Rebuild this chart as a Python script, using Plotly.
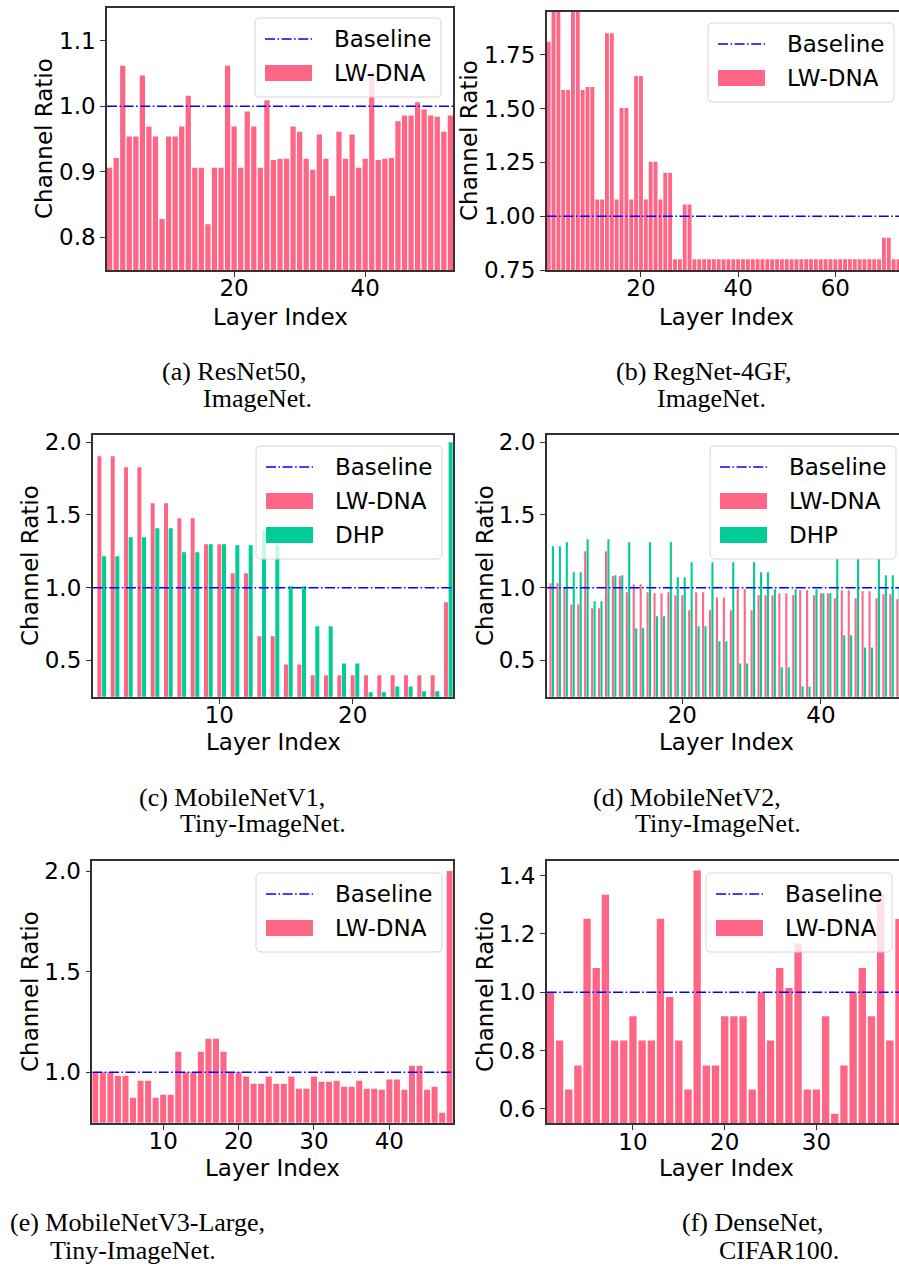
import plotly.graph_objects as go

W, H = 899, 1270

# ---------------- data ----------------
resnet_lwdna = [0.906, 0.921, 1.062, 0.954, 0.954, 1.047, 0.969, 0.954, 0.828, 0.954,
                0.954, 0.969, 1.016, 0.906, 0.906, 0.820, 0.906, 0.906, 1.062, 0.969,
                0.906, 0.992, 0.969, 0.906, 1.009, 0.918, 0.920, 0.920, 0.969, 0.961,
                0.920, 0.903, 0.957, 0.920, 0.863, 0.961, 0.920, 0.957, 0.906, 0.920,
                1.052, 0.918, 0.920, 0.921, 0.977, 0.986, 0.986, 1.006, 0.995, 0.986,
                0.984, 0.961, 0.986]

regnet_lwdna = [1.81, 2.00, 2.00, 1.586, 1.586, 2.00, 2.00, 1.586, 1.60, 1.60,
                1.077, 1.077, 1.85, 1.85, 1.077, 1.503, 1.503, 1.077, 1.651, 1.651,
                1.077, 1.253, 1.253, 1.077, 1.202, 1.202, 0.80, 0.80, 1.054, 1.054,
                0.80, 0.80, 0.80, 0.80, 0.80, 0.80, 0.80, 0.80, 0.80, 0.80,
                0.80, 0.80, 0.80, 0.80, 0.80, 0.80, 0.80, 0.80, 0.80, 0.80,
                0.80, 0.80, 0.80, 0.80, 0.80, 0.80, 0.80, 0.80, 0.80, 0.80,
                0.80, 0.80, 0.80, 0.80, 0.80, 0.80, 0.80, 0.80, 0.80, 0.90,
                0.90, 0.80, 0.80]

mbv1_lwdna = [1.904, 1.904, 1.828, 1.828, 1.580, 1.580, 1.477, 1.477, 1.298, 1.298,
              1.099, 1.099, 0.665, 0.665, 0.472, 0.472, 0.397, 0.397, 0.397, 0.397,
              0.397, 0.397, 0.397, 0.397, 0.397, 0.397, 0.899]
mbv1_dhp = [1.216, 1.216, 1.346, 1.346, 1.408, 1.408, 1.243, 1.243, 1.298, 1.298,
            1.291, 1.291, 1.395, 1.291, 1.009, 1.009, 0.734, 0.734, 0.479, 0.479,
            0.280, 0.280, 0.321, 0.321, 0.287, 0.287, 2.00]

mbv2_lwdna = [1.030, 1.030, 1.000, 0.885, 0.885, 1.250, 0.858, 0.858, 1.250, 1.078,
              1.078, 0.968, 1.023, 1.023, 0.968, 0.961, 0.961, 0.968, 0.947, 0.947,
              0.844, 0.968, 0.968, 0.844, 0.933, 0.933, 0.844, 0.989, 0.989, 0.844,
              0.947, 0.947, 0.947, 0.961, 0.961, 0.947, 0.982, 0.982, 0.947, 0.961,
              0.961, 0.927, 0.982, 0.982, 0.927, 0.975, 0.975, 0.927, 0.954, 0.954,
              0.920]
mbv2_dhp = [1.284, 1.284, 1.312, 1.106, 1.106, 1.333, 0.906, 0.906, 1.333, 1.085,
            1.085, 1.312, 0.720, 0.720, 1.312, 0.803, 0.803, 1.312, 1.071, 1.071,
            1.174, 0.734, 0.734, 1.174, 0.631, 0.631, 1.174, 0.479, 0.479, 1.174,
            1.106, 1.106, 0.989, 0.452, 0.452, 0.989, 0.321, 0.321, 0.989, 0.961,
            0.961, 1.200, 0.672, 0.672, 1.200, 0.589, 0.589, 1.200, 1.085, 1.085,
            1.000]

mbv3_lwdna = [1.000, 1.000, 1.000, 0.983, 0.983, 0.874, 0.959, 0.959, 0.874, 0.889,
              0.889, 1.102, 1.000, 1.000, 1.102, 1.167, 1.167, 1.102, 1.000, 1.000,
              0.979, 0.944, 0.944, 0.979, 0.944, 0.944, 0.979, 0.919, 0.919, 0.979,
              0.954, 0.954, 0.959, 0.929, 0.929, 0.959, 0.919, 0.919, 0.914, 0.964,
              0.964, 0.914, 1.033, 1.033, 0.914, 0.929, 0.800, 2.000]

densenet_lwdna = [1.000, 0.834, 0.666, 0.748, 1.252, 1.083, 1.334, 0.834, 0.834, 0.917,
                  0.834, 0.834, 1.252, 0.983, 0.834, 0.666, 1.417, 0.748, 0.748, 0.917,
                  0.917, 0.917, 0.666, 1.000, 0.834, 1.083, 1.014, 1.168, 0.666, 0.666,
                  0.917, 0.583, 0.748, 1.000, 1.083, 0.917, 1.334, 0.834, 1.251]

baseline_value = 1.0

captions = [
    ("(a) ", "ResNet50,", "ImageNet."),
    ("(b) ", "RegNet-4GF,", "ImageNet."),
    ("(c) ", "MobileNetV1,", "Tiny-ImageNet."),
    ("(d) ", "MobileNetV2,", "Tiny-ImageNet."),
    ("(e) ", "MobileNetV3-Large,", "Tiny-ImageNet."),
    ("(f) ", "DenseNet,", "CIFAR100."),
]

# ---------------- style ----------------
PINK = "#FF6685"
GREEN = "#00CC96"
BLUE = "#0000FF"
DASH = "10px,2.5px,1.6px,2.5px"
FONT = "DejaVu Sans"
FS = 23
SPINE = "#333333"
CAPFONT = "Liberation Serif"
CAPFS = 26

def fx(x):
    return x / W

def fy(y):
    return 1 - y / H

panels = [
    dict(data=[resnet_lwdna], dom=(107, 453, 8, 270), xr=(0.6, 53.4), yr=(0.75, 1.15),
         xt=[20, 40], yt=[0.8, 0.9, 1.0, 1.1], yfmt="{:.1f}", right=False,
         leg=(255, 18), ylab=(44, 139), xlab=(280, 317)),
    dict(data=[regnet_lwdna], dom=(546.7, 899, 11.7, 270), xr=(0.6, 73.1), yr=(0.75, 1.95),
         xt=[20, 40, 60], yt=[0.75, 1.0, 1.25, 1.5, 1.75], yfmt="{:.2f}", right=True,
         leg=(708, 23), ylab=(469, 141), xlab=(726, 317)),
    dict(data=[mbv1_lwdna, mbv1_dhp], dom=(92.7, 453.3, 435, 696.7), xr=(0.5, 27.55),
         yr=(0.25, 2.05), xt=[10, 20], yt=[0.5, 1.0, 1.5, 2.0], yfmt="{:.1f}", right=False,
         leg=(256, 446), ylab=(30, 566), xlab=(273, 742)),
    dict(data=[mbv2_lwdna, mbv2_dhp], dom=(546.7, 899, 435, 696.7), xr=(0.45, 51.25),
         yr=(0.25, 2.05), xt=[20, 40], yt=[0.5, 1.0, 1.5, 2.0], yfmt="{:.1f}", right=True,
         leg=(710, 446), ylab=(485, 566), xlab=(726, 742)),
    dict(data=[mbv3_lwdna], dom=(92.3, 452.7, 861, 1122.7), xr=(0.6, 48.4), yr=(0.75, 2.05),
         xt=[10, 20, 30, 40], yt=[1.0, 1.5, 2.0], yfmt="{:.1f}", right=False,
         leg=(256, 873), ylab=(30, 992), xlab=(272, 1168)),
    dict(data=[densenet_lwdna], dom=(546.7, 899, 861, 1123.3), xr=(0.6, 39.0),
         yr=(0.55, 1.45), xt=[10, 20, 30], yt=[0.6, 0.8, 1.0, 1.2, 1.4], yfmt="{:.1f}",
         right=True, leg=(706, 873), ylab=(485, 992), xlab=(726, 1168)),
]

caption_pos = [  # x of line 1, indent of line 2, y line1, y line2
    (160, 41, 372, 398),
    (614, 41, 372, 398),
    (137, 41, 797, 823),
    (591, 42, 797, 823),
    (8, 40, 1222, 1250),
    (680, 37, 1222, 1250),
]

fig = go.Figure()
shapes = []
annotations = []

for k, p in enumerate(panels):
    n = k + 1
    xa = "x" if n == 1 else f"x{n}"
    ya = "y" if n == 1 else f"y{n}"
    series = p["data"]
    layers = list(range(1, len(series[0]) + 1))
    if len(series) == 1:
        fig.add_trace(go.Bar(x=layers, y=series[0], width=0.8, marker_color=PINK,
                             marker_line_width=0, name="LW-DNA", showlegend=False,
                             xaxis=xa, yaxis=ya))
    else:
        fig.add_trace(go.Bar(x=layers, y=series[0], width=0.3, marker_color=PINK,
                             marker_line_width=0, name="LW-DNA", showlegend=False,
                             xaxis=xa, yaxis=ya))
        fig.add_trace(go.Bar(x=[v + 0.35 for v in layers], y=series[1], width=0.3,
                             marker_color=GREEN, marker_line_width=0, name="DHP",
                             showlegend=False, xaxis=xa, yaxis=ya))
    fig.add_trace(go.Scatter(x=[p["xr"][0], p["xr"][1]], y=[baseline_value, baseline_value],
                             mode="lines", line=dict(color=BLUE, width=1.5, dash=DASH),
                             name="Baseline", showlegend=False, xaxis=xa, yaxis=ya,
                             hoverinfo="skip"))

    x0, x1, t, b = p["dom"]
    axis_common = dict(showline=True, linecolor=SPINE, linewidth=1.6, ticks="outside",
                       ticklen=5, tickwidth=1.4, tickcolor=SPINE, showgrid=False,
                       zeroline=False, automargin=False,
                       tickfont=dict(family=FONT, size=FS, color="black"))
    xaxis = dict(axis_common, domain=[fx(x0), fx(x1)], range=list(p["xr"]),
                 tickvals=p["xt"], ticktext=[str(v) for v in p["xt"]], mirror=True,
                 anchor=ya, ticklabelstandoff=-8)
    yaxis = dict(axis_common, domain=[fy(b), fy(t)], range=list(p["yr"]),
                 tickvals=p["yt"], ticktext=[p["yfmt"].format(v) for v in p["yt"]],
                 mirror=(not p["right"]), anchor=xa)
    fig.layout["xaxis" if n == 1 else f"xaxis{n}"] = xaxis
    fig.layout["yaxis" if n == 1 else f"yaxis{n}"] = yaxis

    # axis titles
    lx, ly = p["ylab"]
    annotations.append(dict(text="Channel Ratio", x=fx(lx), y=fy(ly), xref="paper",
                            yref="paper", xanchor="center", yanchor="middle",
                            textangle=-90, showarrow=False,
                            font=dict(family=FONT, size=FS, color="black")))
    tx, ty = p["xlab"]
    annotations.append(dict(text="Layer Index", x=fx(tx), y=fy(ty), xref="paper",
                            yref="paper", xanchor="center", yanchor="middle",
                            showarrow=False,
                            font=dict(family=FONT, size=FS, color="black")))

    # legend box
    L, T = p["leg"]
    entries = [("line", BLUE, "Baseline"), ("patch", PINK, "LW-DNA")]
    if len(series) == 2:
        entries.append(("patch", GREEN, "DHP"))
    bw = 186
    bh = 11 + 34 * len(entries)
    X0, X1, Y0, Y1 = fx(L), fx(L + bw), fy(T + bh), fy(T)
    rx, ry = 5 / W, 5 / H
    path = (f"M{X0+rx},{Y1} L{X1-rx},{Y1} Q{X1},{Y1} {X1},{Y1-ry} L{X1},{Y0+ry} "
            f"Q{X1},{Y0} {X1-rx},{Y0} L{X0+rx},{Y0} Q{X0},{Y0} {X0},{Y0+ry} "
            f"L{X0},{Y1-ry} Q{X0},{Y1} {X0+rx},{Y1} Z")
    shapes.append(dict(type="path", path=path, xref="paper", yref="paper",
                       fillcolor="rgba(255,255,255,0.8)",
                       line=dict(color="#d6d6d6", width=1), layer="above"))
    for j, (kind, col, label) in enumerate(entries):
        rc = T + 21 + 34 * j
        if kind == "line":
            shapes.append(dict(type="line", xref="paper", yref="paper",
                               x0=fx(L + 10), x1=fx(L + 57), y0=fy(rc), y1=fy(rc),
                               line=dict(color=col, width=1.5, dash=DASH), layer="above"))
        else:
            shapes.append(dict(type="rect", xref="paper", yref="paper",
                               x0=fx(L + 10), x1=fx(L + 57), y0=fy(rc + 8), y1=fy(rc - 8),
                               fillcolor=col, line=dict(width=0), layer="above"))
        annotations.append(dict(text=label, x=fx(L + 77), y=fy(rc), xref="paper",
                                yref="paper", xanchor="left", yanchor="middle",
                                showarrow=False,
                                font=dict(family=FONT, size=FS, color="black")))

    # caption
    lab, l1, l2 = captions[k]
    cx, ind, cy1, cy2 = caption_pos[k]
    annotations.append(dict(text=lab + l1, x=fx(cx), y=fy(cy1), xref="paper", yref="paper",
                            xanchor="left", yanchor="middle", showarrow=False,
                            font=dict(family=CAPFONT, size=CAPFS, color="black")))
    annotations.append(dict(text=l2, x=fx(cx + ind), y=fy(cy2), xref="paper", yref="paper",
                            xanchor="left", yanchor="middle", showarrow=False,
                            font=dict(family=CAPFONT, size=CAPFS, color="black")))

fig.update_layout(width=W, height=H,
                  margin=dict(l=0, r=0, t=0, b=0, pad=0, autoexpand=False),
                  paper_bgcolor="white", plot_bgcolor="white", barmode="overlay",
                  showlegend=False, shapes=shapes, annotations=annotations,
                  font=dict(family=FONT, size=FS, color="black"))

fig.write_html("out.html", config={"displayModeBar": False},
               post_script="document.body.style.margin='0px';"
                           "document.body.style.overflow='hidden';")
